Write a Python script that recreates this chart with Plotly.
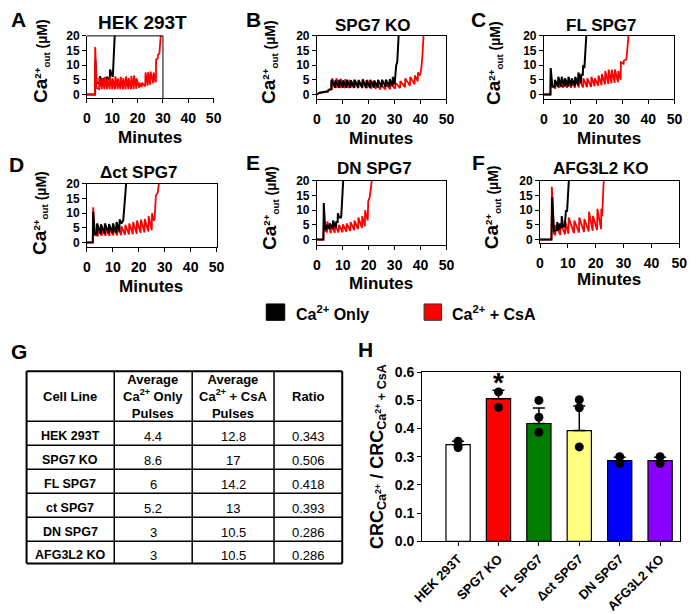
import plotly.graph_objects as go

W, H = 700, 614
FONT = "Liberation Sans, Arial, sans-serif"

# ---------------- DATA ----------------
minutes_ticks = [0, 10, 20, 30, 40, 50]
ca_ticks = [0, 5, 10, 15, 20]

# (minute, Ca2+ out uM) points
A_only = [(0, 0), (3.2, 0), (3.3, 12), (3.8, 4), (5.0, 3.8), (5.1, 6.2), (6.3, 4), (6.4, 5.5), (7.6, 4.3),
          (7.7, 6), (9.0, 5), (9.1, 8.5), (10.2, 6), (11.0, 21)]
A_csa = [(0, 0), (3.1, 0), (3.25, 16.2), (3.8, 2.2), (4.8, 1.8), (4.9, 5.8), (5.85, 1.8), (5.95, 5.5),
         (6.9, 1.8), (7.0, 6), (7.95, 1.8), (8.05, 5.5), (9.0, 1.8), (9.1, 6), (10.05, 1.8), (10.15, 5.5),
         (11.1, 1.8), (11.2, 6.2), (12.15, 1.8), (12.25, 5.5), (13.2, 1.8), (13.3, 6), (14.25, 1.8),
         (14.35, 5.6), (15.3, 1.8), (15.4, 6.2), (16.35, 1.8), (16.45, 5.6), (17.4, 1.8), (17.5, 6.3),
         (18.45, 1.8), (18.55, 6.5), (19.5, 1.9), (19.6, 5.5), (20.6, 2.3), (20.7, 4), (21.6, 2.5),
         (21.7, 4), (23.0, 2.8), (23.1, 7.5), (24.0, 3), (24.1, 7.6), (25.0, 3.3), (25.1, 7.8),
         (26.2, 3.8), (26.3, 7.5), (27.2, 4.2), (27.3, 12), (27.9, 12.2), (28.0, 13.5), (28.6, 14),
         (29.2, 21)]

B_only = [(0, 0), (1, 0.6), (4.3, 1.1), (4.5, 1.6), (5.5, 1.8), (5.6, 5), (7.0, 2.3), (7.1, 4.8),
          (8.5, 2.3), (8.6, 5), (10.0, 2.3), (10.1, 4.8), (11.5, 2.3), (11.6, 5), (13.0, 2.3), (13.1, 4.8),
          (14.5, 2.3), (14.6, 5), (16.0, 2.3), (16.1, 4.8), (17.5, 2.3), (17.6, 5), (19.0, 2.3), (19.1, 4.8),
          (20.5, 2.3), (20.6, 5), (22.0, 2.4), (22.1, 4.8), (23.5, 2.4), (23.6, 5), (25.0, 2.5), (25.1, 5),
          (26.5, 2.6), (26.6, 5), (28.0, 2.7), (28.1, 5.2), (29.2, 3), (29.3, 6), (30.0, 3.5), (30.6, 10),
          (31.0, 11), (31.6, 21)]
B_csa = [(0, 0), (1, 0.5), (4.2, 1), (4.6, 1.5), (5.8, 1.8), (5.9, 5.5), (7.4, 2.2), (7.5, 5.5),
         (9.1, 2.2), (9.2, 5.3), (10.8, 2.2), (10.9, 5.2), (12.5, 2.2), (12.6, 5), (14.2, 2.2), (14.3, 5),
         (15.9, 2.2), (16.0, 5), (17.6, 2.2), (17.7, 5.3), (19.3, 2.1), (19.4, 5), (21.0, 2), (21.1, 4.5),
         (22.7, 1.9), (22.8, 4), (24.5, 1.7), (24.6, 3.5), (26.4, 1.7), (26.5, 3.5), (28.3, 1.8),
         (28.4, 3.6), (30.2, 2), (30.3, 4), (32.1, 2.2), (32.2, 4.6), (34.0, 2.5), (34.1, 5.5), (35.9, 3),
         (36.0, 6), (37.7, 3.5), (37.8, 6.5), (38.9, 4.5), (39.0, 7.5), (39.8, 6.5), (40.3, 9), (40.7, 13),
         (41.2, 21)]

C_only = [(0, 0), (2.5, 0), (2.6, 9), (3.2, 3), (4.1, 2.5), (4.2, 5), (5.4, 2.6), (5.5, 6), (6.7, 2.6),
          (6.8, 6), (8.0, 2.7), (8.1, 5.5), (9.3, 2.7), (9.4, 6), (10.6, 2.8), (10.7, 5.5), (11.9, 2.9),
          (12.0, 6), (13.1, 3.2), (13.2, 7.5), (14.2, 4), (14.3, 7), (14.9, 6.5), (15.0, 10), (15.5, 9),
          (16.3, 21)]
C_csa = [(0, 0), (2.5, 0), (2.6, 6), (3.3, 2.5), (4.4, 2.3), (4.5, 4.5), (5.9, 2.3), (6.0, 4.5),
         (7.4, 2.3), (7.5, 4.5), (8.9, 2.3), (9.0, 4.8), (10.4, 2.3), (10.5, 4.8), (11.9, 2.3), (12.0, 5),
         (13.4, 2.4), (13.5, 5), (15.0, 2.4), (15.1, 5.5), (16.5, 2.5), (16.6, 5.5), (18.1, 2.6), (18.2, 6),
         (19.4, 2.8), (19.5, 5.5), (20.8, 3), (20.9, 6.5), (22.1, 3.2), (22.2, 7), (23.4, 3.4), (23.5, 8),
         (24.7, 3.6), (24.8, 8.5), (25.9, 3.8), (26.0, 8.5), (27.1, 4), (27.2, 8.5), (28.4, 4.2),
         (28.5, 8), (29.4, 5), (29.5, 11), (30.5, 10.5), (30.6, 11.5), (31.6, 12), (32.5, 21)]

D_only = [(0, 0), (2.25, 0), (2.35, 10.5), (3.0, 3), (3.8, 2.8), (3.9, 6.5), (5.3, 2.9), (5.4, 6.2),
          (6.8, 3), (6.9, 6.5), (8.4, 3.1), (8.5, 6.3), (9.9, 3.2), (10.0, 6.5), (11.3, 3.3), (11.4, 7),
          (12.5, 3.8), (12.6, 7.8), (13.4, 6.5), (14.0, 7.5), (15.2, 21)]
D_csa = [(0, 0), (2.25, 0), (2.4, 12), (3.1, 2.5), (4.2, 2.3), (4.3, 4.5), (5.7, 2.3), (5.8, 4.5),
         (7.2, 2.3), (7.3, 4.5), (8.7, 2.3), (8.8, 4.8), (10.2, 2.4), (10.3, 5), (11.7, 2.4), (11.8, 5.2),
         (13.2, 2.5), (13.3, 5.5), (14.7, 2.6), (14.8, 6), (16.2, 2.7), (16.3, 6.5), (17.7, 2.8), (17.8, 7),
         (19.2, 3), (19.3, 7.5), (20.7, 3.2), (20.8, 7.8), (22.2, 3.4), (22.3, 8), (23.7, 3.7), (23.8, 9),
         (25.0, 4.2), (25.1, 10), (25.8, 7.5), (26.1, 8), (26.6, 16), (27.3, 17), (27.9, 21)]

E_only = [(0, 0), (2.5, 0), (2.65, 12.5), (3.2, 3.5), (3.7, 3.5), (3.75, 5), (4.9, 3.6), (5.0, 5.5),
          (6.2, 3.8), (6.25, 6.5), (7.4, 4), (7.5, 6), (8.0, 6), (8.1, 9), (8.6, 7.5), (9.3, 7.5),
          (9.4, 8), (10.2, 21)]
E_csa = [(0, 0), (2.5, 0), (2.65, 5), (3.3, 3), (3.9, 2.5), (4.0, 6.2), (5.4, 2.2), (5.5, 5), (6.9, 2.3),
         (7.0, 5), (8.4, 2.4), (8.5, 5), (9.9, 2.5), (10.0, 5.2), (11.4, 2.7), (11.5, 5.5), (12.9, 2.9),
         (13.0, 6), (14.4, 3.2), (14.5, 6.5), (15.9, 3.6), (16.0, 7.5), (17.4, 4), (17.5, 8), (18.5, 4.5),
         (18.6, 10), (19.6, 6.5), (19.8, 13), (20.4, 14.5), (21.3, 21)]

F_only = [(0, 0), (4.1, 0), (4.4, 14.5), (5.0, 3), (6.1, 3.2), (6.2, 6), (6.7, 3.5), (7.0, 3.5),
          (7.1, 5.5), (7.7, 4), (7.8, 8), (8.3, 4.5), (8.9, 4.5), (9.0, 7), (9.3, 10), (9.7, 9.5),
          (10.4, 21)]
F_csa = [(0, 0), (4.1, 0), (4.25, 18), (5.0, 2), (5.5, 1.5), (5.6, 5), (7.3, 1.6), (7.4, 5.5), (9.0, 1.8),
         (9.1, 6), (10.2, 2), (10.3, 7.5), (12.2, 2.2), (12.3, 6.5), (14.0, 2.4), (14.1, 7.5), (15.8, 2.6),
         (15.9, 7), (17.5, 2.8), (17.6, 9.5), (18.9, 3), (19.0, 8), (20.5, 3.3), (20.6, 10.5), (21.9, 3.6),
         (22.0, 10.5), (22.3, 8), (22.9, 21)]

panel_titles = ["HEK 293T", "SPG7 KO", "FL SPG7", "\u0394ct SPG7", "DN SPG7", "AFG3L2 KO"]
panel_series = [(A_only, A_csa), (B_only, B_csa), (C_only, C_csa), (D_only, D_csa), (E_only, E_csa),
                (F_only, F_csa)]

# Table G
table_header = ["Cell Line", "Average<br>Ca<sup>2+</sup> Only<br>Pulses",
                "Average<br>Ca<sup>2+</sup> + CsA<br>Pulses", "Ratio"]
cell_lines = ["HEK 293T", "SPG7 KO", "FL SPG7", "ct SPG7", "DN SPG7", "AFG3L2 KO"]
avg_only = ["4.4", "8.6", "6", "5.2", "3", "3"]
avg_csa = ["12.8", "17", "14.2", "13", "10.5", "10.5"]
ratio = ["0.343", "0.506", "0.418", "0.393", "0.286", "0.286"]

# Panel H
h_cats = ["HEK 293T", "SPG7 KO", "FL SPG7", "\u0394ct SPG7", "DN SPG7", "AFG3L2 KO"]
h_means = [0.343, 0.506, 0.418, 0.393, 0.286, 0.286]
h_err = [0.012, 0.03, 0.055, 0.087, 0.012, 0.012]
h_points = [[0.355, 0.333], [0.530, 0.475], [0.500, 0.440, 0.387], [0.502, 0.474, 0.335],
            [0.300, 0.276], [0.300, 0.276]]
h_colors = ["#ffffff", "#ff0000", "#007d00", "#ffff80", "#0000ff", "#8800ff"]
h_ticks = [0.0, 0.1, 0.2, 0.3, 0.4, 0.5, 0.6]

# ---------------- LAYOUT HELPERS ----------------
annotations = []
shapes = []


def fx(x):
    return x / W


def fy(y):
    return 1 - y / H


def ann(x, y, text, size, bold=True, angle=0, xanchor="center", yanchor="middle"):
    annotations.append(dict(x=fx(x), y=fy(y), xref="paper", yref="paper", text=text, showarrow=False,
                            font=dict(family=FONT, size=size, color="black",
                                      weight="bold" if bold else "normal"),
                            textangle=angle, xanchor=xanchor, yanchor=yanchor))


def line(x0, y0, x1, y1, w=1.0, color="black"):
    shapes.append(dict(type="line", xref="paper", yref="paper", x0=fx(x0), y0=fy(y0), x1=fx(x1), y1=fy(y1),
                       line=dict(color=color, width=w)))


fig = go.Figure()

# geometry of trace panels (pixels)
geom = [
    dict(x0=79, x1=209, y0=29, y1=94, ymin=-1.31, letter=(9, 12), title=(136, 15), tsize=19,
         xt=144, xty=135, cx=32, cy=55),
    dict(x0=315, x1=448, y0=29, y1=95, ymin=-1.64, letter=(250, 12), title=(373, 18), tsize=17,
         xt=381, xty=136, cx=266, cy=56),
    dict(x0=548, x1=682, y0=29, y1=95, ymin=-1.64, letter=(481, 12), title=(607, 18), tsize=17,
         xt=615, xty=136, cx=497, cy=57),
    dict(x0=79, x1=212, y0=183, y1=249, ymin=-1.64, letter=(7, 163), title=(132, 171), tsize=17,
         xt=145, xty=290, cx=30, cy=213),
    dict(x0=315, x1=448, y0=180, y1=247, ymin=-1.97, letter=(249, 161), title=(374, 167), tsize=17,
         xt=381, xty=287, cx=267, cy=208),
    dict(x0=544, x1=687, y0=180, y1=245, ymin=-1.31, letter=(481, 161), title=(606, 167), tsize=17,
         xt=615, xty=283, cx=495, cy=207),
]
letters = ["A", "B", "C", "D", "E", "F"]
red_on_top = [True, False, False, False, False, False]
ca_title = "<span style='font-size:19px'>Ca</span><sup>2+</sup><sub>out</sub> (µM)"

layout_axes = {}
for i, (g, title, (only, csa)) in enumerate(zip(geom, panel_titles, panel_series), start=1):
    xs = "x" if i == 1 else f"x{i}"
    ys = "y" if i == 1 else f"y{i}"
    tr_only = go.Scatter(x=[p[0] for p in only], y=[p[1] for p in only], mode="lines",
                         line=dict(color="black", width=2.0), xaxis=xs, yaxis=ys, hoverinfo="skip")
    tr_csa = go.Scatter(x=[p[0] for p in csa], y=[p[1] for p in csa], mode="lines",
                        line=dict(color="#ff0000", width=1.8), xaxis=xs, yaxis=ys, hoverinfo="skip")
    if red_on_top[i - 1]:
        fig.add_trace(tr_only)
        fig.add_trace(tr_csa)
    else:
        fig.add_trace(tr_csa)
        fig.add_trace(tr_only)
    mirror = i != 1
    layout_axes["xaxis" if i == 1 else f"xaxis{i}"] = dict(
        domain=[fx(g["x0"]), fx(g["x1"])], range=[0, 50], anchor=ys, tickvals=minutes_ticks,
        ticks="outside", ticklen=4, tickcolor="black", showline=True, linecolor="black", linewidth=1,
        mirror=mirror, showgrid=False, zeroline=False, ticklabelstandoff=3,
        tickfont=dict(family=FONT, size=14, color="black", weight="bold"))
    layout_axes["yaxis" if i == 1 else f"yaxis{i}"] = dict(
        domain=[fy(g["y1"]), fy(g["y0"])], range=[g["ymin"], 20], anchor=xs, tickvals=ca_ticks,
        ticks="outside", ticklen=4, tickcolor="black", showline=True, linecolor="black", linewidth=1,
        mirror=mirror, showgrid=False, zeroline=False,
        tickfont=dict(family=FONT, size=12, color="black", weight="bold"))
    if i == 1:
        # partial frame in panel A (top and right only reach 30 min)
        shapes.append(dict(type="line", xref="x", yref="y domain", x0=0, x1=30, y0=1, y1=1,
                           line=dict(color="black", width=1)))
        shapes.append(dict(type="line", xref="x", yref="y domain", x0=30, x1=30, y0=0, y1=1,
                           line=dict(color="black", width=1)))
    ann(g["letter"][0], g["letter"][1], letters[i - 1], 21)
    ann(g["title"][0], g["title"][1], title, g["tsize"])
    ann(g["xt"], g["xty"], "Minutes", 17)
    ann(g["cx"], g["cy"], ca_title, 14, angle=-90)

# ---------------- legend ----------------
shapes.append(dict(type="rect", xref="paper", yref="paper", x0=fx(263), x1=fx(282), y0=fy(325), y1=fy(308),
                   fillcolor="black", line=dict(color="black", width=1)))
ann(291, 317, "Ca<sup>2+</sup> Only", 16, xanchor="left")
shapes.append(dict(type="rect", xref="paper", yref="paper", x0=fx(425), x1=fx(443), y0=fy(325), y1=fy(308),
                   fillcolor="#ff0000", line=dict(color="#333333", width=1)))
ann(452, 317, "Ca<sup>2+</sup> + CsA", 16, xanchor="left")

# ---------------- table G ----------------
ann(9, 357, "G", 21)
col_x = [17, 107, 187, 271, 341]
row_y = [378, 430, 455, 480, 505, 530, 555, 578]
for k, xv in enumerate(col_x):
    line(xv, row_y[0], xv, row_y[-1], 2 if k in (0, len(col_x) - 1) else 1.5)
for k, yv in enumerate(row_y):
    line(col_x[0], yv, col_x[-1], yv, 2 if k in (0, len(row_y) - 1) else 1.5)
col_c = [(col_x[k] + col_x[k + 1]) / 2 for k in range(4)]
for k, htxt in enumerate(table_header):
    ann(col_c[k], 404, htxt, 13)
for r in range(len(cell_lines)):
    yc = (row_y[r + 1] + row_y[r + 2]) / 2 + 3
    ann(col_c[0], yc, cell_lines[r], 12.5)
    ann(col_c[1], yc, avg_only[r], 13, bold=False)
    ann(col_c[2], yc, avg_csa[r], 13, bold=False)
    ann(col_c[3], yc, ratio[r], 13, bold=False)

# ---------------- panel H ----------------
ann(365, 355, "H", 21)
fig.add_trace(go.Bar(x=h_cats, y=h_means, width=0.6,
                     marker=dict(color=h_colors, line=dict(color="black", width=1.2)),
                     error_y=dict(type="data", symmetric=False, array=h_err, arrayminus=[0] * len(h_err),
                                  color="black", thickness=1.5, width=6),
                     xaxis="x7", yaxis="y7", hoverinfo="skip"))
px_, py_ = [], []
for c, pts in zip(h_cats, h_points):
    for v in pts:
        px_.append(c)
        py_.append(v)
fig.add_trace(go.Scatter(x=px_, y=py_, mode="markers", marker=dict(color="black", size=9),
                         xaxis="x7", yaxis="y7", hoverinfo="skip"))
layout_axes["xaxis7"] = dict(domain=[fx(423), fx(688)], anchor="y7", type="category",
                             categoryarray=h_cats, range=[-0.89, 5.5], ticks="outside", ticklen=4,
                             tickcolor="black", tickangle=-45, showline=True, linecolor="black",
                             linewidth=1, mirror=True, showgrid=False, zeroline=False,
                             tickfont=dict(family=FONT, size=13, color="black", weight="bold"))
layout_axes["yaxis7"] = dict(domain=[fy(555), fy(379)], anchor="x7", range=[0, 0.6], tickvals=h_ticks,
                             tickformat=".1f", ticks="outside", ticklen=4, tickcolor="black",
                             showline=True, linecolor="black", linewidth=1, mirror=True, showgrid=False,
                             zeroline=False,
                             tickfont=dict(family=FONT, size=14, color="black", weight="bold"))
annotations.append(dict(x="SPG7 KO", y=0.565, xref="x7", yref="y7", text="*", showarrow=False,
                        font=dict(family=FONT, size=28, color="black", weight="bold"),
                        xanchor="center", yanchor="middle"))
ann(378, 467, "CRC<sub>Ca<sup>2+</sup></sub> / CRC<sub>Ca<sup>2+</sup> + CsA</sub>", 18, angle=-90)

fig.update_layout(width=W, height=H, margin=dict(l=0, r=0, t=0, b=0), autosize=False,
                  paper_bgcolor="white", plot_bgcolor="white", showlegend=False,
                  annotations=annotations, shapes=shapes, bargap=0.4, **layout_axes)

fig.write_html("out.html", post_script="document.body.style.margin='0';",
               config={"displayModeBar": False})
